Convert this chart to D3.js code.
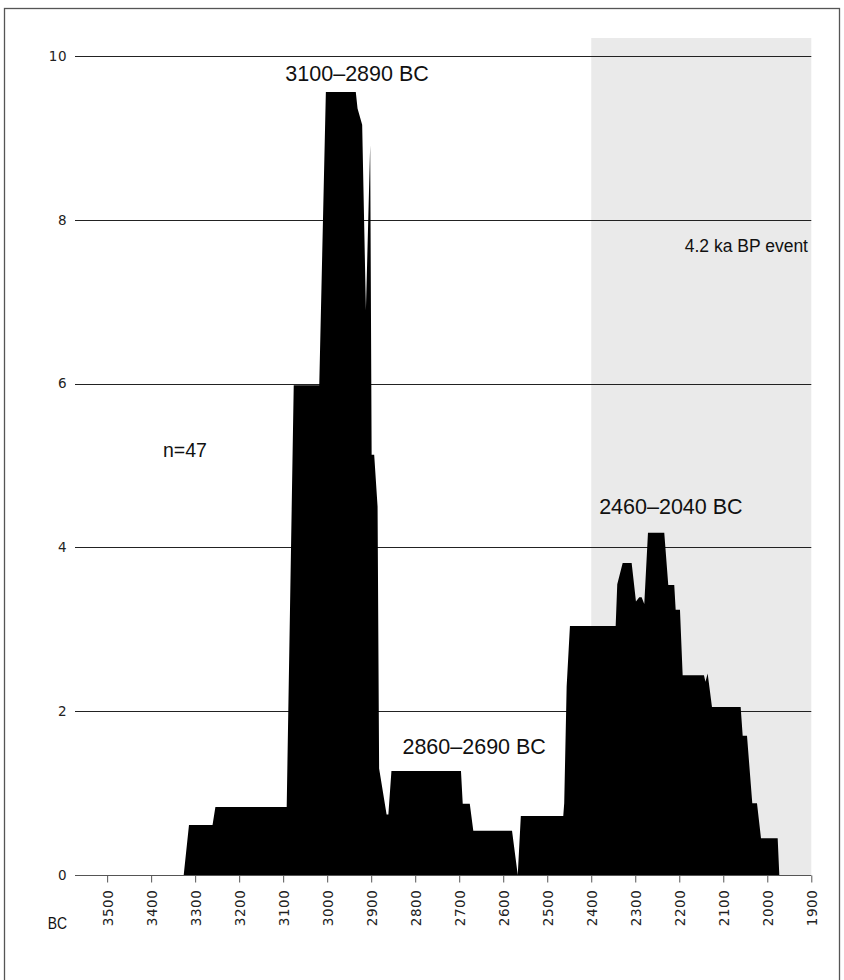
<!DOCTYPE html>
<html>
<head>
<meta charset="utf-8">
<script src="https://cdn.jsdelivr.net/npm/d3@7"></script>
<style>
  html, body { margin: 0; padding: 0; background: #fff; }
  svg { display: block; }
</style>
</head>
<body>
<div id="chart"></div>
<script>
// ---- data ----
const years = [3326, 3314, 3260.5, 3254, 3092, 3076, 3018, 3003, 2935, 2931, 2920.5, 2912, 2902.3, 2899, 2893.2, 2885.5, 2882, 2865, 2861, 2854, 2696, 2692, 2676, 2668, 2580, 2567, 2560, 2463.6, 2461.4, 2455.9, 2448.4, 2344.5, 2340.9, 2328.6, 2308.2, 2298.4, 2290.9, 2285.5, 2279.5, 2271.1, 2234.1, 2225, 2211.4, 2208.2, 2198.4, 2192.3, 2143.9, 2140.5, 2135.5, 2125.7, 2060.5, 2055.9, 2046.1, 2034.1, 2023.4, 2014.3, 1976.4, 1972.7];
const values = [0, 0.61, 0.61, 0.83, 0.83, 5.98, 5.98, 9.56, 9.56, 9.36, 9.16, 6.9, 8.91, 5.13, 5.13, 4.5, 1.3, 0.74, 0.74, 1.27, 1.27, 0.87, 0.87, 0.54, 0.54, 0, 0.72, 0.72, 0.88, 2.3, 3.04, 3.04, 3.55, 3.81, 3.81, 3.34, 3.39, 3.39, 3.31, 4.18, 4.18, 3.54, 3.54, 3.24, 3.24, 2.44, 2.44, 2.36, 2.46, 2.05, 2.05, 1.70, 1.70, 0.875, 0.875, 0.45, 0.45, 0];
const yTicks = [0, 2, 4, 6, 8, 10];
const xTicks = [3500, 3400, 3300, 3200, 3100, 3000, 2900, 2800, 2700, 2600, 2500, 2400, 2300, 2200, 2100, 2000, 1900];
const eventRange = [2400, 1900];
const annotations = [
  { text: "3100–2890 BC", year: 2932, value: 9.69 },
  { text: "2860–2690 BC", year: 2666, value: 1.477 },
  { text: "2460–2040 BC", year: 2219, value: 4.41 }
];
const eventLabel = "4.2 ka BP event";
const nLabel = "n=47";
const unitLabel = "BC";

// ---- layout ----
const W = 844, H = 980;
const svg = d3.select("#chart").append("svg").attr("width", W).attr("height", H);

const x = d3.scaleLinear().domain([3573, 1900]).range([75, 811.3]);
const y = d3.scaleLinear().domain([0, 10.22]).range([875, 38]);

// frame
svg.append("rect").attr("x", 4.5).attr("y", 8.5).attr("width", 835).attr("height", 1000)
  .attr("fill", "none").attr("stroke", "#555").attr("stroke-width", 1.3);

// 4.2 ka event band
svg.append("rect")
  .attr("x", x(eventRange[0])).attr("y", y(10.22))
  .attr("width", x(eventRange[1]) - x(eventRange[0]))
  .attr("height", y(0) - y(10.22))
  .attr("fill", "#eaeaea");

// gridlines + y labels
const grid = svg.append("g");
yTicks.forEach(t => {
  grid.append("line")
    .attr("x1", 75).attr("x2", x(1900))
    .attr("y1", Math.round(y(t)) + 0.5).attr("y2", Math.round(y(t)) + 0.5)
    .attr("stroke", t === 0 ? "#555" : "#222").attr("stroke-width", 1);
  grid.append("text")
    .attr("x", 67).attr("y", y(t)).attr("dy", "0.36em")
    .attr("text-anchor", "end")
    .attr("font-family", "DejaVu Sans").attr("font-size", 13.5).attr("fill", "#222")
    .attr("letter-spacing", "0.5px")
    .text(t);
});

// area
const pts = years.map((yr, i) => ({ year: yr, v: values[i] }));
const area = d3.area().x(d => x(d.year)).y0(y(0)).y1(d => y(d.v));
svg.append("path").datum(pts).attr("d", area).attr("fill", "#000");

// x axis
const xAxis = d3.axisBottom(x).tickValues(xTicks).tickSize(7).tickFormat(d => d);
const gx = svg.append("g").attr("transform", `translate(0,${Math.round(y(0)) + 0.5})`).call(xAxis);
gx.select(".domain").remove();
gx.selectAll(".tick line").attr("stroke", "#555");
gx.selectAll(".tick text")
  .attr("font-family", "DejaVu Sans").attr("font-size", 13.5).attr("fill", "#222")
  .attr("letter-spacing", "0.6px")
  .attr("transform", "rotate(-90)")
  .attr("text-anchor", "end")
  .attr("x", -14).attr("y", 0).attr("dy", "0.36em");

// unit label (condensed)
svg.append("text")
  .attr("transform", "translate(67,929) scale(0.82,1)")
  .attr("text-anchor", "end")
  .attr("font-family", "Liberation Sans").attr("font-size", 17).attr("fill", "#111")
  .text(unitLabel);

// annotations
annotations.forEach(a => {
  svg.append("text").attr("x", x(a.year)).attr("y", y(a.value))
    .attr("text-anchor", "middle")
    .attr("font-family", "Liberation Sans").attr("font-size", 21.5).attr("fill", "#111")
    .text(a.text);
});
svg.append("text").attr("x", 808).attr("y", 252).attr("text-anchor", "end")
  .attr("font-family", "Liberation Sans").attr("font-size", 17.5).attr("fill", "#111")
  .text(eventLabel);
svg.append("text").attr("x", 163).attr("y", 457)
  .attr("font-family", "Liberation Sans").attr("font-size", 19.5).attr("fill", "#111")
  .text(nLabel);
</script>
</body>
</html>
